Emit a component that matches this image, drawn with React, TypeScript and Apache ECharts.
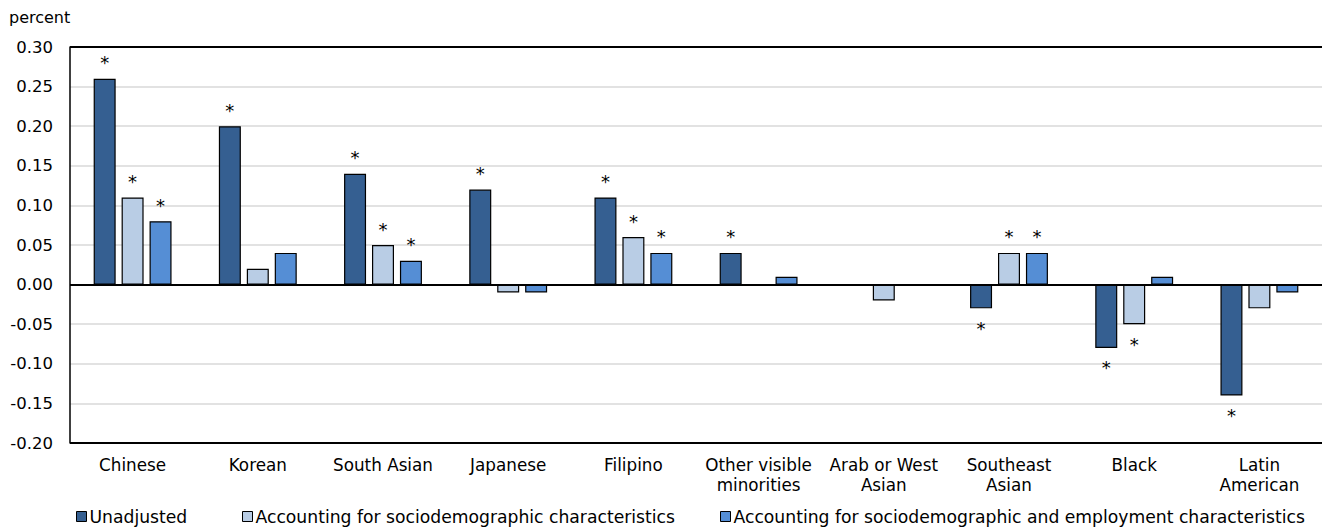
import React, { useEffect, useRef } from "react";
import * as echarts from "echarts";

const categories = [
  "Chinese",
  "Korean",
  "South Asian",
  "Japanese",
  "Filipino",
  "Other visible\nminorities",
  "Arab or West\nAsian",
  "Southeast\nAsian",
  "Black",
  "Latin\nAmerican",
];

const seriesNames = [
  "Unadjusted",
  "Accounting for sociodemographic characteristics",
  "Accounting for sociodemographic and employment characteristics",
];

const unadjusted = [0.26, 0.2, 0.14, 0.12, 0.11, 0.04, 0, -0.03, -0.08, -0.14];
const sociodemographic = [0.11, 0.02, 0.05, -0.01, 0.06, 0, -0.02, 0.04, -0.05, -0.03];
const employment = [0.08, 0.04, 0.03, -0.01, 0.04, 0.01, 0, 0.04, 0.01, -0.01];

const unadjustedSig = [true, true, true, true, true, true, false, true, true, true];
const sociodemographicSig = [true, false, true, false, true, false, false, true, true, false];
const employmentSig = [true, false, true, false, true, false, false, true, false, false];

const colors = ["#355f91", "#b9cde5", "#558ed5"];
const FONT = "DejaVu Sans";

function buildData(values: number[], sig: boolean[]) {
  return values.map((v, i) => ({
    value: v,
    label: {
      show: sig[i],
      position: v < 0 ? "bottom" : "top",
      distance: v < 0 ? 11 : 7,
    },
  }));
}

export default function App() {
  const ref = useRef<HTMLDivElement>(null);
  useEffect(() => {
    if (!ref.current) return;
    const chart = echarts.init(ref.current, undefined, { renderer: "svg" });
    const allValues = [unadjusted, sociodemographic, employment];
    const allSig = [unadjustedSig, sociodemographicSig, employmentSig];
    const legendLefts = [76, 242, 720];
    chart.setOption({
      animation: false,
      textStyle: { fontFamily: FONT },
      graphic: [
        {
          type: "text",
          left: 9,
          top: 9,
          style: { text: "percent", fontFamily: FONT, fontSize: 16, fill: "#000" },
        },
      ],
      legend: seriesNames.map((n, i) => ({
        data: [n],
        left: legendLefts[i],
        top: 508,
        padding: 0,
        itemWidth: 10,
        itemHeight: 10,
        icon: "rect",
        selectedMode: false,
        textStyle: { fontFamily: FONT, fontSize: 17.2, color: "#000", padding: [0, 0, 0, -2] },
        itemStyle: { borderColor: "#000", borderWidth: 1 },
      })),
      grid: { left: 70, top: 47, width: 1255, bottom: 84, containLabel: false },
      xAxis: {
        type: "category",
        data: categories,
        axisLine: { show: false },
        axisTick: { show: false },
        axisLabel: {
          color: "#000",
          fontFamily: FONT,
          fontSize: 16.8,
          lineHeight: 20,
          margin: 12,
          interval: 0,
        },
      },
      yAxis: {
        type: "value",
        min: -0.2,
        max: 0.3,
        interval: 0.05,
        axisLine: { show: true, lineStyle: { color: "#000", width: 1.5 } },
        axisTick: { show: false },
        splitLine: { show: true, lineStyle: { color: "#d9d9d9", width: 1.5 } },
        axisLabel: {
          color: "#000",
          fontFamily: FONT,
          fontSize: 16.5,
          margin: 17,
          formatter: (v: number) => v.toFixed(2),
        },
      },
      series: seriesNames.map((n, i) => ({
        name: n,
        type: "bar",
        barWidth: 22,
        barGap: "27%",
        data: buildData(allValues[i], allSig[i]),
        itemStyle: { color: colors[i], borderColor: "#000", borderWidth: 1.2 },
        label: {
          formatter: "*",
          color: "#000",
          fontFamily: FONT,
          fontSize: 18,
        },
        markLine:
          i === 0
            ? {
                silent: true,
                symbol: "none",
                label: { show: false },
                lineStyle: { color: "#000", width: 2, type: "solid" },
                data: [{ yAxis: 0.3 }, { yAxis: 0 }, { yAxis: -0.2 }],
              }
            : undefined,
      })),
    });
    return () => chart.dispose();
  }, []);
  return <div ref={ref} style={{ width: 1322, height: 527, position: "absolute", left: 0, top: 0 }} />;
}
